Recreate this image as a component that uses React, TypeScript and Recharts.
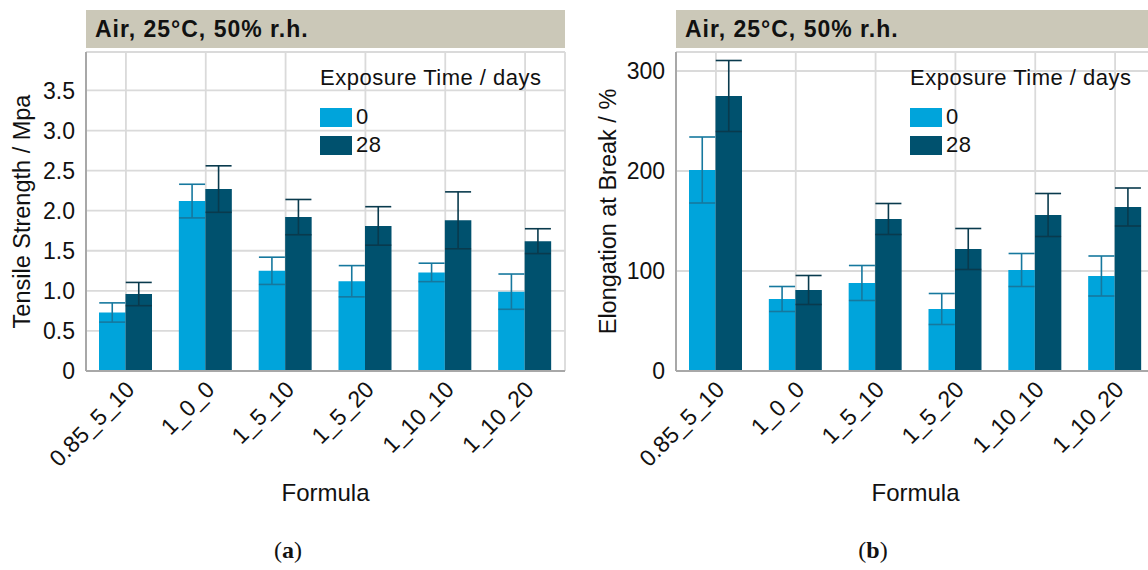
import React from "react";
import { BarChart, Bar, XAxis, YAxis, CartesianGrid, ErrorBar, Legend } from "recharts";

const formulas = ["0.85_5_10", "1_0_0", "1_5_10", "1_5_20", "1_10_10", "1_10_20"];

const tensile0 = [0.73, 2.12, 1.25, 1.12, 1.23, 0.99];
const tensile0Err = [0.12, 0.21, 0.17, 0.195, 0.115, 0.22];
const tensile28 = [0.96, 2.27, 1.92, 1.81, 1.88, 1.62];
const tensile28Err = [0.145, 0.29, 0.22, 0.24, 0.355, 0.155];

const elong0 = [201, 72, 88, 62, 101, 95];
const elong0Err = [33, 12.5, 17.5, 15.5, 16.5, 20];
const elong28 = [275, 81, 152, 122, 156, 164];
const elong28Err = [35.5, 14.5, 15.5, 20.5, 21.5, 19];

const tensileTicks = [0, 0.5, 1, 1.5, 2, 2.5, 3, 3.5];
const tensileMinor = [0, 0.25, 0.5, 0.75, 1, 1.25, 1.5, 1.75, 2, 2.25, 2.5, 2.75, 3, 3.25, 3.5, 3.75];
const elongTicks = [0, 100, 200, 300];
const elongMinor = [0, 20, 40, 60, 80, 100, 120, 140, 160, 180, 200, 220, 240, 260, 280, 300];

const tensileData = formulas.map((f, i) => ({
  f,
  d0: tensile0[i],
  e0: tensile0Err[i],
  d28: tensile28[i],
  e28: tensile28Err[i],
}));

const elongData = formulas.map((f, i) => ({
  f,
  d0: elong0[i],
  e0: elong0Err[i],
  d28: elong28[i],
  e28: elong28Err[i],
}));

const font = '"Liberation Sans", Arial, sans-serif';
const light = "#00a4db";
const dark = "#00516e";
const lightErr = "#16789e";
const darkErr = "#093a4d";
const axisGrey = "#a8a8a8";
const gridGrey = "#dadada";
const band = "#cbc8b8";

const FormulaTick = (props: any) => {
  const { x, y, payload } = props;
  return (
    <g transform={`translate(${x + 10},${y + 20})`}>
      <text
        x={0}
        y={0}
        textAnchor="end"
        transform="rotate(-45)"
        fontFamily={font}
        fontSize={23}
        fill="#111"
      >
        {payload.value}
      </text>
    </g>
  );
};

const yTitle = (text: string, cx: number) => (props: any) => {
  const vb = props.viewBox;
  const cy = vb.y + vb.height / 2;
  return (
    <text
      x={cx}
      y={cy}
      transform={`rotate(-90 ${cx} ${cy})`}
      textAnchor="middle"
      dominantBaseline="central"
      fontFamily={font}
      fontSize={23.5}
      fill="#111"
    >
      {text}
    </text>
  );
};

const renderLegend = (props: any) => (
  <div style={{ fontFamily: font, fontSize: 22, color: "#111", lineHeight: "24px", letterSpacing: 0.5 }}>
    <div style={{ marginBottom: 13, whiteSpace: "nowrap" }}>Exposure Time / days</div>
    {props.payload.map((p: any) => (
      <div key={p.value} style={{ display: "flex", alignItems: "center", height: 28 }}>
        <span style={{ display: "inline-block", width: 32, height: 19, background: p.color, marginRight: 4 }} />
        <span>{p.value}</span>
      </div>
    ))}
  </div>
);

type PanelProps = {
  data: any[];
  width: number;
  yWidth: number;
  domain: [number, number];
  ticks: number[];
  minor: number[];
  fmt: (v: number) => string;
  title: string;
  titleX: number;
  legendLeft: number;
};

const Panel = ({ data, width, yWidth, domain, ticks, minor, fmt, title, titleX, legendLeft }: PanelProps) => (
  <BarChart
    width={width}
    height={570}
    data={data}
    margin={{ top: 52, right: width - 580 + 15 - (yWidth - 86), bottom: 0, left: 0 }}
    barSize={26.5}
    barGap={0}
  >
    <CartesianGrid stroke={gridGrey} strokeWidth={1.8} />
    <XAxis
      dataKey="f"
      height={199}
      tick={<FormulaTick />}
      tickLine={false}
      tickSize={0}
      tickMargin={0}
      interval={0}
      axisLine={{ stroke: axisGrey, strokeWidth: 2 }}
      label={{ value: "Formula", position: "insideBottom", offset: 69, fontSize: 24, fill: "#111", fontFamily: font }}
    />
    <XAxis xAxisId="top" dataKey="f" orientation="top" height={0} tick={false} tickLine={false} axisLine={{ stroke: "#bcbcbc", strokeWidth: 1.5 }} />
    <YAxis
      width={yWidth}
      domain={domain}
      ticks={ticks}
      tickFormatter={fmt}
      tickLine={false}
      tickSize={0}
      tickMargin={11}
      axisLine={{ stroke: axisGrey, strokeWidth: 2 }}
      tick={{ fontSize: 23, fill: "#111", fontFamily: font }}
      label={{ content: yTitle(title, titleX) }}
    />
    <YAxis
      yAxisId="minor"
      width={0}
      mirror
      domain={domain}
      ticks={minor}
      tick={false}
      tickSize={5}
      tickLine={{ stroke: "#9a9a9a", strokeWidth: 1.2 }}
      axisLine={false}
    />
    <YAxis yAxisId="right" orientation="right" width={0} domain={[0, 1]} tick={false} tickLine={false} axisLine={{ stroke: "#bcbcbc", strokeWidth: 1.5 }} />
    <Legend
      layout="vertical"
      align="center"
      verticalAlign="middle"
      content={renderLegend}
      wrapperStyle={{ left: legendLeft, top: 66, bottom: "auto", width: "auto" }}
    />
    <Bar dataKey="d0" name="0" fill={light} isAnimationActive={false}>
      <ErrorBar dataKey="e0" width={13} stroke={lightErr} strokeWidth={1.6} isAnimationActive={false} />
    </Bar>
    <Bar dataKey="d28" name="28" fill={dark} isAnimationActive={false}>
      <ErrorBar dataKey="e28" width={13} stroke={darkErr} strokeWidth={1.6} isAnimationActive={false} />
    </Bar>
  </BarChart>
);

const bandText: React.CSSProperties = {
  position: "absolute",
  top: 10,
  height: 38,
  background: band,
  fontFamily: font,
  fontWeight: "bold",
  fontSize: 23,
  letterSpacing: 1,
  lineHeight: "38px",
  paddingLeft: 9,
  boxSizing: "border-box",
  color: "#111",
  whiteSpace: "nowrap",
};

const caption: React.CSSProperties = {
  position: "absolute",
  top: 537,
  width: 60,
  textAlign: "center",
  fontFamily: '"Liberation Serif", "DejaVu Serif", serif',
  fontSize: 24,
  color: "#111",
};

export default function App() {
  return (
    <div style={{ position: "absolute", left: 0, top: 0, width: 1148, height: 570, overflow: "hidden", background: "#fff" }}>
      <div style={{ position: "absolute", left: 0, top: 0 }}>
        <Panel
          data={tensileData}
          width={580}
          yWidth={86}
          domain={[0, 3.98]}
          ticks={tensileTicks}
          minor={tensileMinor}
          fmt={(v) => (v === 0 ? "0" : v.toFixed(1))}
          title="Tensile Strength / Mpa"
          titleX={22}
          legendLeft={320}
        />
      </div>
      <div style={{ position: "absolute", left: 580, top: 0 }}>
        <Panel
          data={elongData}
          width={590}
          yWidth={96}
          domain={[0, 319]}
          ticks={elongTicks}
          minor={elongMinor}
          fmt={(v) => String(v)}
          title="Elongation at Break / %"
          titleX={28}
          legendLeft={330}
        />
      </div>
      <div style={{ ...bandText, left: 86, width: 479 }}>Air, 25°C, 50% r.h.</div>
      <div style={{ ...bandText, left: 676, width: 480 }}>Air, 25°C, 50% r.h.</div>
      <div style={{ ...caption, left: 258 }}>
        (<b>a</b>)
      </div>
      <div style={{ ...caption, left: 843 }}>
        (<b>b</b>)
      </div>
    </div>
  );
}
